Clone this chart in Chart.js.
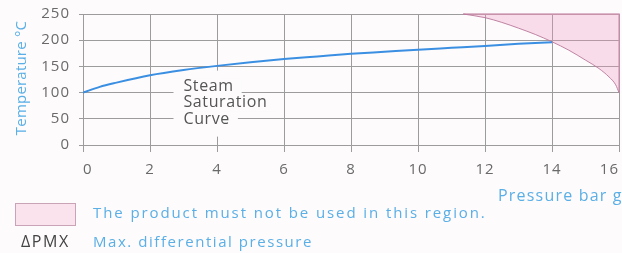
<!DOCTYPE html>
<html>
<head>
<meta charset="utf-8">
<script src="https://cdn.jsdelivr.net/npm/chart.js@4.4.1/dist/chart.umd.min.js"></script>
<style>
  html, body { margin: 0; padding: 0; background: #fdfbfc; }
  #wrap { position: relative; width: 622px; height: 253px; overflow: hidden; background: #fdfbfc; font-family: "Open Sans", sans-serif; }
  #c { position: absolute; left: 0; top: 0; }
  .t { position: absolute; white-space: nowrap; font-size: 15px; line-height: 18px; color: #5aafe6; }
  #ytitle { left: 20px; top: 78px; transform: translate(-50%, -50%) rotate(-90deg); font-size: 15px; letter-spacing: 0.2px; }
  #xtitle { left: 498px; top: 186px; font-size: 16px; letter-spacing: 1.2px; }
  #box { position: absolute; left: 15px; top: 203px; width: 59px; height: 21px; background: #fbe3ee; border: 1px solid #c9a3b6; }
  #leg1 { left: 93px; top: 203px; letter-spacing: 1.9px; }
  #pmx { left: 21px; top: 232px; color: #444; font-size: 16px; letter-spacing: 1.6px; }
  #leg2 { left: 93px; top: 232px; letter-spacing: 1.55px; }
</style>
</head>
<body>
<div id="wrap">
  <canvas id="c" width="622" height="253"></canvas>
  <div class="t" id="ytitle">Temperature °C</div>
  <div class="t" id="xtitle">Pressure bar g</div>
  <div id="box"></div>
  <div class="t" id="leg1">The product must not be used in this region.</div>
  <div class="t" id="pmx">ΔPMX</div>
  <div class="t" id="leg2">Max. differential pressure</div>
</div>
<script>
// ---- data ----
const xTicks = [0, 2, 4, 6, 8, 10, 12, 14, 16];
const yTicks = [0, 50, 100, 150, 200, 250];
const pressureBar = [0, 0.5, 1, 2, 3, 4, 5, 6, 7, 8, 9, 10, 11, 12, 13, 14];
const saturationTemp = [100, 111, 119, 133, 143, 151, 158, 164, 169, 174, 178, 182, 185.5, 189, 193, 196];
const limitPressure = [11.35, 12, 12.5, 13, 13.5, 14, 14.5, 15, 15.4, 15.7, 15.9, 16];
const limitTemp = [250, 243, 234, 223, 211, 197, 181, 162, 146, 130, 115, 100];
const regionEdgePressure = [11.35, 16, 16];
const regionEdgeTemp = [250, 250, 100];
const curveLabel = ['Steam', 'Saturation', 'Curve'];
const curveLabelAt = { x: 3, y: 100 };

const pts = (xs, ys) => xs.map((x, i) => ({ x: x, y: ys[i] }));

const spacing = {
  id: 'spacing',
  beforeLayout(chart) { chart.ctx.letterSpacing = '1px'; },
  beforeDraw(chart) { chart.ctx.letterSpacing = '1px'; },
  beforeDatasetsDraw(chart) {
    const ctx = chart.ctx;
    const xs = chart.scales.x, ys = chart.scales.y;
    const x0 = xs.getPixelForValue(curveLabelAt.x);
    const yTop = ys.getPixelForValue(curveLabelAt.y);
    ctx.save();
    ctx.letterSpacing = '0.6px';
    ctx.font = '16px "Open Sans", sans-serif';
    ctx.textBaseline = 'middle';
    ctx.textAlign = 'left';
    const lh = 16.3;
    ctx.fillStyle = '#fdfbfc';
    curveLabel.forEach((s, i) => {
      const w = ctx.measureText(s).width;
      const cy = yTop - 6 + i * lh;
      ctx.fillRect(x0 - 10, cy - 8, w + 18, 16.5);
    });
    ctx.fillRect(xs.getPixelForValue(4) - 4, yTop - 22, 8, 66);
    ctx.fillStyle = '#555';
    curveLabel.forEach((s, i) => {
      ctx.fillText(s, x0, yTop - 6 + i * lh);
    });
    ctx.restore();
  }
};

new Chart(document.getElementById('c'), {
  type: 'scatter',
  data: {
    datasets: [
      {
        label: 'Region',
        data: pts(limitPressure, limitTemp),
        showLine: true,
        borderColor: 'rgba(185,120,155,0.9)',
        borderWidth: 1,
        backgroundColor: 'rgba(240,150,190,0.3)',
        fill: 'end',
        pointRadius: 0,
        cubicInterpolationMode: 'monotone',
        clip: 4,
        order: 2
      },
      {
        label: 'Edge',
        data: pts(regionEdgePressure, regionEdgeTemp),
        showLine: true,
        borderColor: 'rgba(200,140,170,0.8)',
        borderWidth: 1.5,
        fill: false,
        pointRadius: 0,
        clip: 4,
        order: 3
      },
      {
        label: 'Steam Saturation Curve',
        data: pts(pressureBar, saturationTemp),
        showLine: true,
        borderColor: '#3a8fe2',
        borderWidth: 2,
        fill: false,
        pointRadius: 0,
        cubicInterpolationMode: 'monotone',
        order: 1
      }
    ]
  },
  options: {
    responsive: false,
    animation: false,
    devicePixelRatio: 1,
    layout: { padding: { left: 0, right: 3, top: 14, bottom: 78 } },
    plugins: { legend: { display: false }, tooltip: { enabled: false } },
    scales: {
      x: {
        type: 'linear', min: 0, max: 16,
        afterBuildTicks(s) { s.ticks = xTicks.map(v => ({ value: v })); },
        afterFit(s) { s.height = 30; s.paddingLeft = 0; s.paddingRight = 0; },
        ticks: { color: '#6a6a6a', align: 'inner', font: { family: '"Open Sans", sans-serif', size: 15 }, padding: 9, maxRotation: 0, autoSkip: false },
        grid: { color: '#9c9c9c', lineWidth: 1, tickLength: 7, tickColor: '#9c9c9c' },
        border: { color: '#9c9c9c' }
      },
      y: {
        type: 'linear', min: 0, max: 250,
        afterBuildTicks(s) { s.ticks = yTicks.map(v => ({ value: v })); },
        afterFit(s) { s.width = 83; s.paddingTop = 0; s.paddingBottom = 0; },
        ticks: { color: '#6a6a6a', font: { family: '"Open Sans", sans-serif', size: 15 }, padding: 9, autoSkip: false },
        grid: { color: '#9c9c9c', lineWidth: 1, tickLength: 4, tickColor: '#9c9c9c' },
        border: { color: '#9c9c9c' }
      }
    }
  },
  plugins: [spacing]
});
</script>
</body>
</html>
